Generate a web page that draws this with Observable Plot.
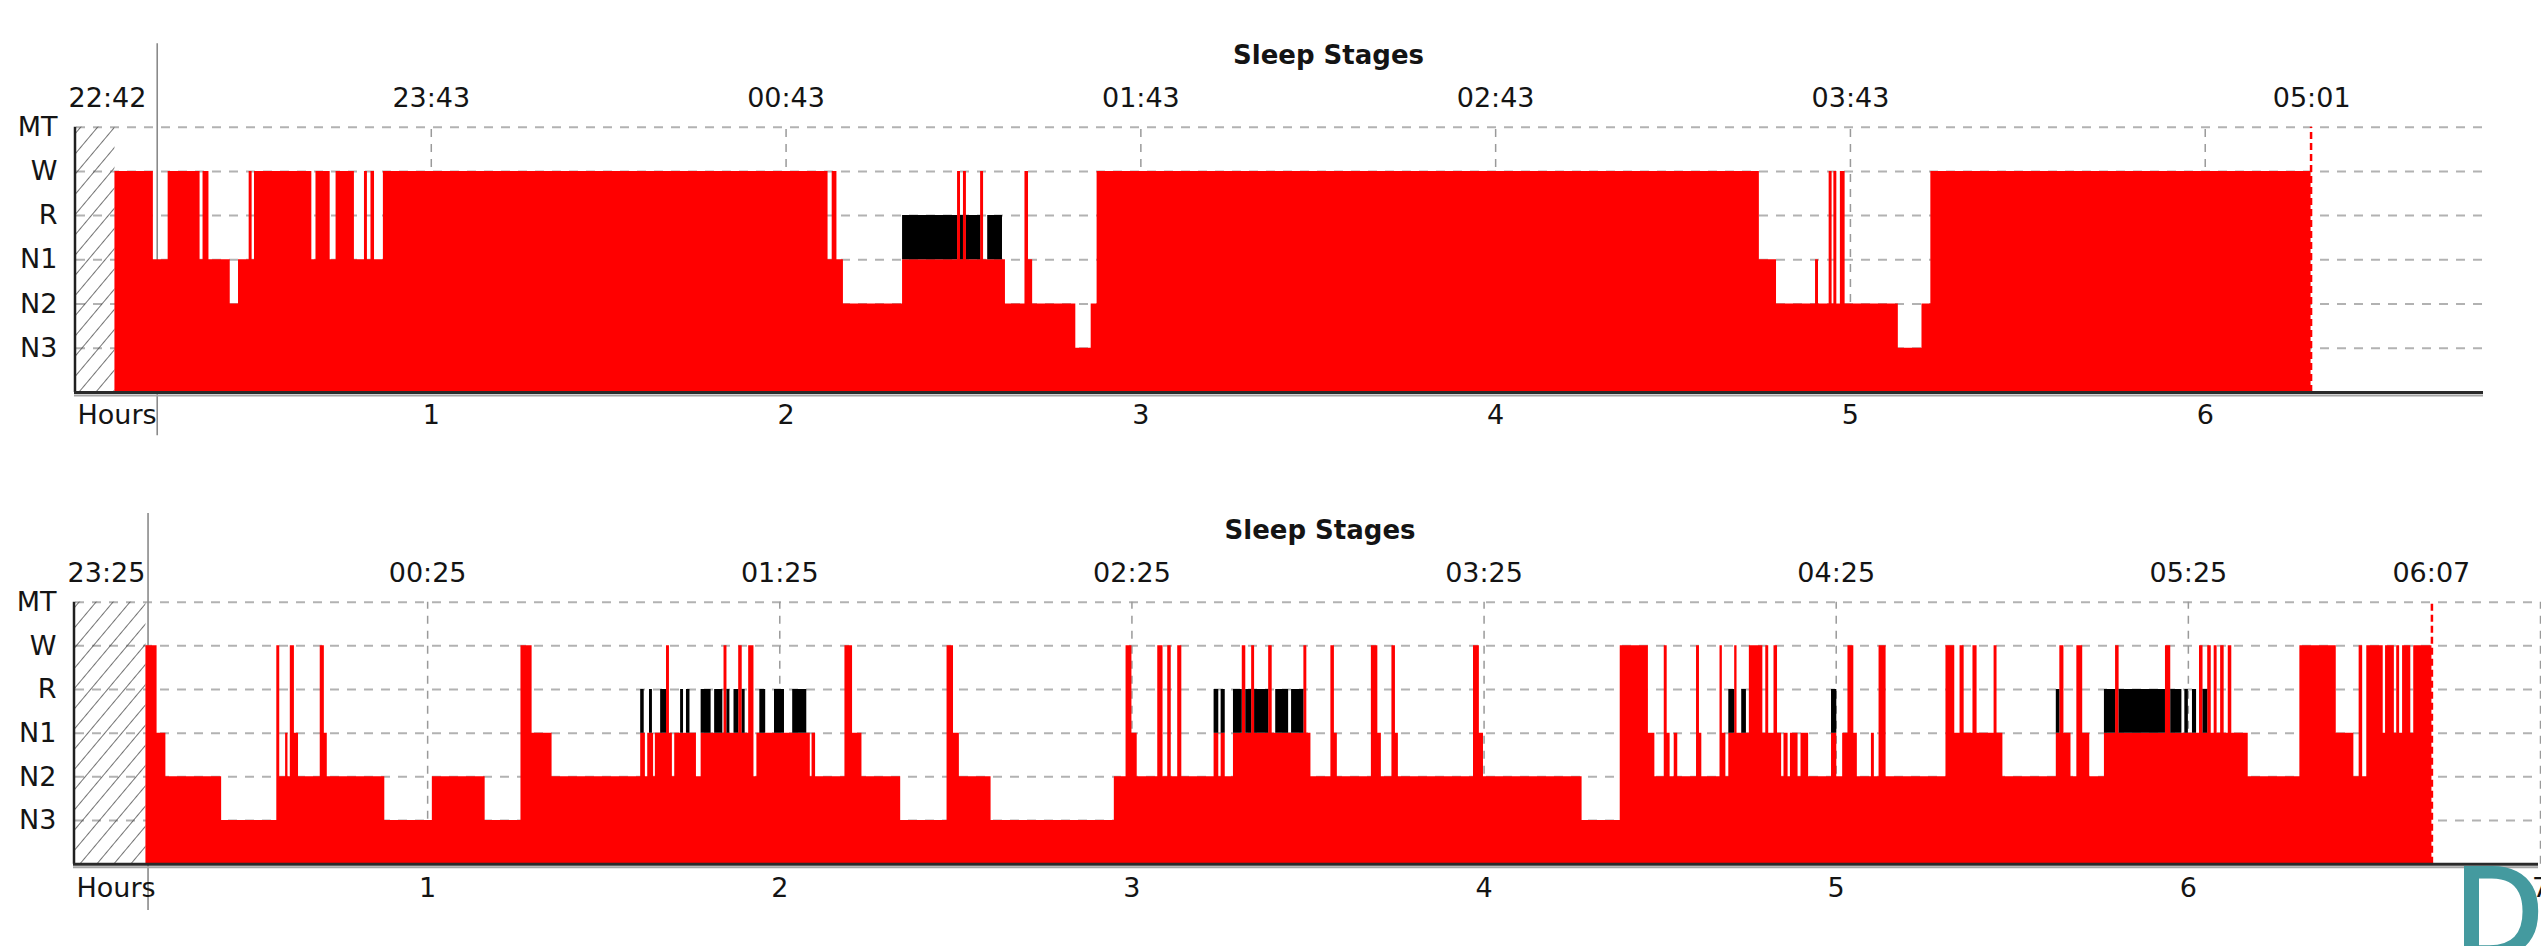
<!DOCTYPE html>
<html>
<head>
<meta charset="utf-8">
<script src="https://cdn.jsdelivr.net/npm/d3@7"></script>
<script src="https://cdn.jsdelivr.net/npm/@observablehq/plot@0.6"></script>
<style>
  html, body { margin: 0; padding: 0; background: #fff; overflow: hidden; width: 2541px; height: 946px; }
  #wrap { position: relative; width: 2541px; height: 946px; overflow: hidden; }
  .panel { position: absolute; left: 0; width: 2541px; height: 473px; }
  #panelLabel { position: absolute; left: 2452px; top: 845px; font-family: "Open Sans"; font-weight: 600; font-size: 128px; line-height: 1; color: #449a9f; }
</style>
</head>
<body>
<div id="wrap">
  <div class="panel" id="top" style="top:0px"></div>
  <div class="panel" id="bottom" style="top:473px"></div>
  <div id="panelLabel">D</div>
</div>
<script>
// ---------- shared ----------
const chartTitle = "Sleep Stages";
const stageLabels = ["N3", "N2", "N1", "R", "W", "MT"];   // bottom to top
const stageLevels = [1, 2, 3, 4, 5, 6];

// ---------- night 1 (top panel) : minutes from hour 0 where each stage starts ----------
const night1Start = [6.5, 13.0, 15.5, 20.9, 21.4, 22.4, 26.0, 27.4, 29.2, 29.7, 30.1, 39.8, 40.5, 42.9, 43.9, 47.0, 48.7, 49.2, 49.8, 50.4, 51.9,
  127.1, 127.8, 128.6, 129.7, 139.7, 149.0, 149.5, 150.0, 150.5, 152.9, 153.4, 154.1, 156.6, 157.1, 160.4, 161.0, 161.7, 169.0, 171.6, 172.6,
  284.6, 287.5, 294.1, 294.6, 296.4, 296.9, 297.2, 297.7, 298.3, 299.1, 308.1, 312.1, 313.6];
const night1Stage = ["W", "N1", "W", "N1", "W", "N1", "N2", "N1", "W", "N1", "W", "N1", "W", "N1", "W", "N1", "W", "N1", "W", "N1", "W",
  "N1", "W", "N1", "N2", "R", "W", "R", "W", "R", "W", "N1", "R", "N1", "N2", "W", "N1", "N2", "N3", "N2", "W",
  "N1", "N2", "N1", "N2", "W", "N2", "W", "N2", "W", "N2", "N3", "N2", "W"];
const night1End = 377.9;
const night1HourTicks = [1, 2, 3, 4, 5, 6];
const night1ClockHours = [0, 1, 2, 3, 4, 5, 6.3];
const night1ClockLabels = ["22:42", "23:43", "00:43", "01:43", "02:43", "03:43", "05:01"];
const night1Cursor = 0.2275;

// ---------- night 2 (bottom panel) ----------
const night2Start = [12.0, 13.9, 15.4, 24.9, 34.3, 34.8, 35.8, 36.2, 36.6, 37.3, 38.0, 41.7, 42.4, 42.9, 52.7, 60.8, 69.8, 75.9, 77.8, 81.2,
  96.3, 96.9, 97.1, 97.5, 97.8, 98.3, 98.5, 98.8, 99.7, 100.7, 101.2, 101.7, 102.1, 103.1, 103.6, 104.1, 104.7, 105.8, 106.6, 108.3, 108.9,
  110.3, 110.5, 111.0, 111.5, 112.2, 113.0, 113.6, 114.1, 114.7, 115.6, 116.1, 116.6, 117.6, 119.1, 120.8, 122.2, 124.6, 125.2, 125.5, 126.1,
  131.1, 132.4, 134.0, 140.6, 148.5, 149.6, 150.6, 156.0, 177.0, 179.0, 180.0, 180.9, 184.4, 185.3, 186.1, 186.7, 187.8, 188.5,
  194.0, 194.8, 195.2, 195.9, 197.3, 198.8, 199.4, 200.4, 200.9, 203.3, 203.9, 204.5, 206.7, 207.2,
  209.3, 209.8, 210.5, 213.9, 214.5, 215.0, 220.8, 221.9, 222.5, 224.3, 224.9, 225.4, 238.2, 239.2, 239.9, 256.7, 263.2, 268.0, 269.1,
  270.7, 271.2, 271.7, 272.4, 273.0, 276.2, 276.7, 277.1, 280.2, 280.6, 281.2, 281.7, 282.7, 283.1, 283.9, 284.7, 285.2, 287.5, 288.0,
  288.5, 289.4, 290.0, 290.7, 291.1, 291.8, 292.2, 293.5, 294.0, 295.3, 299.2, 300.1, 301.1, 302.0, 303.0, 303.6, 306.0, 306.5,
  307.3, 308.5, 318.7, 320.2, 321.1, 321.8, 323.3, 324.0, 326.9, 327.4, 328.4, 337.5, 338.1, 338.8, 340.0, 341.0, 342.0, 343.2,
  345.7, 347.6, 348.2, 356.1, 357.0, 358.9, 359.4, 360.0, 360.7, 361.4, 361.9, 362.5, 363.3, 363.9, 364.4, 364.9, 365.5, 366.1, 366.8, 367.4,
  370.2, 379.0, 385.2, 388.2, 389.1, 389.7, 390.4, 393.2, 393.6, 395.1, 395.5, 396.0, 396.5, 397.9, 398.4];
const night2Stage = ["W", "N1", "N2", "N3", "W", "N2", "N1", "N2", "W", "N1", "N2", "W", "N1", "N2", "N3", "N2", "N3", "W", "N1", "N2",
  "R", "N1", "N2", "N1", "R", "N1", "N2", "N1", "R", "W", "N1", "N2", "N1", "R", "N1", "R", "N1", "N2", "R", "N1", "R",
  "N1", "W", "R", "N1", "R", "W", "R", "N1", "W", "N2", "N1", "R", "N1", "R", "N1", "R", "N1", "N2", "N1", "N2",
  "W", "N1", "N2", "N3", "W", "N1", "N2", "N3", "N2", "W", "N1", "N2", "W", "N2", "W", "N2", "W", "N2",
  "R", "N2", "R", "N2", "R", "W", "R", "W", "R", "W", "N1", "R", "N1", "R",
  "W", "N1", "N2", "W", "N1", "N2", "W", "N1", "N2", "W", "N1", "N2", "W", "N1", "N2", "N3", "W", "N1", "N2",
  "W", "N1", "N2", "N1", "N2", "W", "N1", "N2", "W", "N1", "N2", "R", "W", "N1", "R", "N1", "W", "N1", "W",
  "N1", "W", "N1", "N2", "N1", "N2", "N1", "N2", "N1", "N2", "R", "N2", "N1", "W", "N1", "N2", "N1", "N2",
  "W", "N2", "W", "N1", "W", "N1", "W", "N1", "W", "N1", "N2", "R", "W", "N1", "N2", "W", "N1", "N2",
  "R", "W", "R", "W", "R", "N1", "R", "N1", "R", "N1", "W", "R", "W", "N1", "W", "N1", "W", "N1", "W", "N1",
  "N2", "W", "N1", "N2", "W", "N2", "W", "N1", "W", "N1", "W", "N1", "W", "N1", "W"];
const night2End = 401.5;
const night2HourTicks = [1, 2, 3, 4, 5, 6, 7];
const night2ClockHours = [0, 1, 2, 3, 4, 5, 6, 6.69];
const night2ClockLabels = ["23:25", "00:25", "01:25", "02:25", "03:25", "04:25", "05:25", "06:07"];
const night2Cursor = 0.206;

// ---------- drawing ----------
const LEVEL = {N3: 1, N2: 2, N1: 3, R: 4, W: 5, MT: 6};

function hatchDefs(id) {
  return () => {
    const ns = "http://www.w3.org/2000/svg";
    const defs = document.createElementNS(ns, "defs");
    const p = document.createElementNS(ns, "pattern");
    p.setAttribute("id", id);
    p.setAttribute("patternUnits", "userSpaceOnUse");
    p.setAttribute("width", "13");
    p.setAttribute("height", "13");
    p.setAttribute("patternTransform", "rotate(40)");
    const l = document.createElementNS(ns, "line");
    l.setAttribute("x1", "0"); l.setAttribute("y1", "0");
    l.setAttribute("x2", "0"); l.setAttribute("y2", "13");
    l.setAttribute("stroke", "#505050");
    l.setAttribute("stroke-width", "1.6");
    p.appendChild(l);
    defs.appendChild(p);
    return defs;
  };
}

function sleepChart(cfg) {
  const n = cfg.start.length;
  const pts = cfg.start.map((m, i) => ({h: m / 60, stage: cfg.stage[i]}));
  pts.push({h: cfg.end / 60, stage: cfg.stage[n - 1]});
  const redTop = d => d.stage === "R" ? LEVEL.N1 : LEVEL[d.stage];
  const remTop = d => d.stage === "R" ? LEVEL.R : LEVEL.N1;
  const labelFont = 27;
  return Plot.plot({
    width: 2541,
    height: 473,
    marginLeft: cfg.marginLeft,
    marginRight: cfg.marginRight,
    marginTop: cfg.marginTop,
    marginBottom: cfg.marginBottom,
    style: {fontFamily: "DejaVu Sans", fontSize: "27px", color: "#141414", background: "#ffffff"},
    x: {domain: [0, cfg.xMax], axis: null},
    y: {domain: [0, 6], axis: null},
    marks: [
      hatchDefs(cfg.id),
      Plot.ruleY(stageLevels, {x1: 0, x2: cfg.xMax, stroke: "#b2b2b2", strokeWidth: 2, strokeDasharray: "9,8"}),
      Plot.ruleX(cfg.hourTicks, {y1: 0, y2: 6, stroke: "#9a9a9a", strokeWidth: 1.5, strokeDasharray: "8,7"}),
      Plot.ruleX([cfg.cursor], {y1: cfg.cursorY1, y2: cfg.cursorY2, stroke: "#8a8a8a", strokeWidth: 1.6}),
      Plot.rect([{x1: 0, x2: cfg.start[0] / 60}], {x1: "x1", x2: "x2", y1: 0, y2: 6, fill: `url(#${cfg.id})`}),
      Plot.areaY(pts, {x: "h", y: redTop, curve: "step-after", fill: "#ff0000"}),
      Plot.areaY(pts, {x: "h", y1: LEVEL.N1, y2: remTop, curve: "step-after", fill: "#000000"}),
      Plot.ruleX([cfg.end / 60], {y1: 0, y2: 6, stroke: "#ff0000", strokeWidth: 2.5, strokeDasharray: "7,4"}),
      Plot.ruleX([0], {y1: 0, y2: 6, stroke: "#202020", strokeWidth: 2.5, dx: -1.5}),
      Plot.ruleY([0], {x1: 0, x2: cfg.xMax, stroke: "#2a2a2a", strokeWidth: 3, dx: -2}),
      Plot.ruleY([0], {x1: 0, x2: cfg.xMax, stroke: "#a5a5a5", strokeWidth: 2, dy: 3, dx: -2}),
      Plot.axisY({ticks: stageLevels, tickFormat: d => stageLabels[d - 1], tickSize: 0, tickPadding: 19, fontSize: labelFont, label: null}),
      Plot.axisX({ticks: cfg.hourTicks, tickFormat: d => String(d), tickSize: 0, tickPadding: cfg.hourPad, fontSize: labelFont, label: null}),
      Plot.text(["Hours"], {x: 0, text: d => d, frameAnchor: "bottom", lineAnchor: "top", textAnchor: "start", dy: cfg.hourPad, dx: 1, fontSize: labelFont}),
      Plot.text(cfg.clockHours.slice(1), {x: d => d, text: (d, i) => cfg.clockLabels[i + 1], frameAnchor: "top", lineAnchor: "middle", dy: cfg.clockDy, fontSize: labelFont}),
      Plot.text(cfg.clockHours.slice(0, 1), {x: d => d, text: () => cfg.clockLabels[0], frameAnchor: "top", lineAnchor: "middle", dy: cfg.clockDy, dx: 31, fontSize: labelFont}),
      Plot.text([chartTitle], {text: d => d, frameAnchor: "top", lineAnchor: "middle", dy: -71.7, dx: cfg.titleDx, fontWeight: "bold", fontSize: 26})
    ]
  });
}

document.getElementById("top").appendChild(sleepChart({
  id: "hatchTop",
  start: night1Start, stage: night1Stage, end: night1End,
  hourTicks: night1HourTicks, clockHours: night1ClockHours, clockLabels: night1ClockLabels,
  cursor: night1Cursor, cursorY1: -0.98, cursorY2: 7.89,
  xMax: 6.79, marginLeft: 76, marginRight: 56, marginTop: 126.7, marginBottom: 81.1,
  hourPad: 12, clockDy: -28.7, titleDx: 47.5
}));

document.getElementById("bottom").appendChild(sleepChart({
  id: "hatchBottom",
  start: night2Start, stage: night2Stage, end: night2End,
  hourTicks: night2HourTicks, clockHours: night2ClockHours, clockLabels: night2ClockLabels,
  cursor: night2Cursor, cursorY1: -1.06, cursorY2: 8.03,
  xMax: 7, marginLeft: 75, marginRight: 1, marginTop: 128.7, marginBottom: 82.3,
  hourPad: 13.5, clockDy: -29, titleDx: 12
}));
</script>
</body>
</html>
